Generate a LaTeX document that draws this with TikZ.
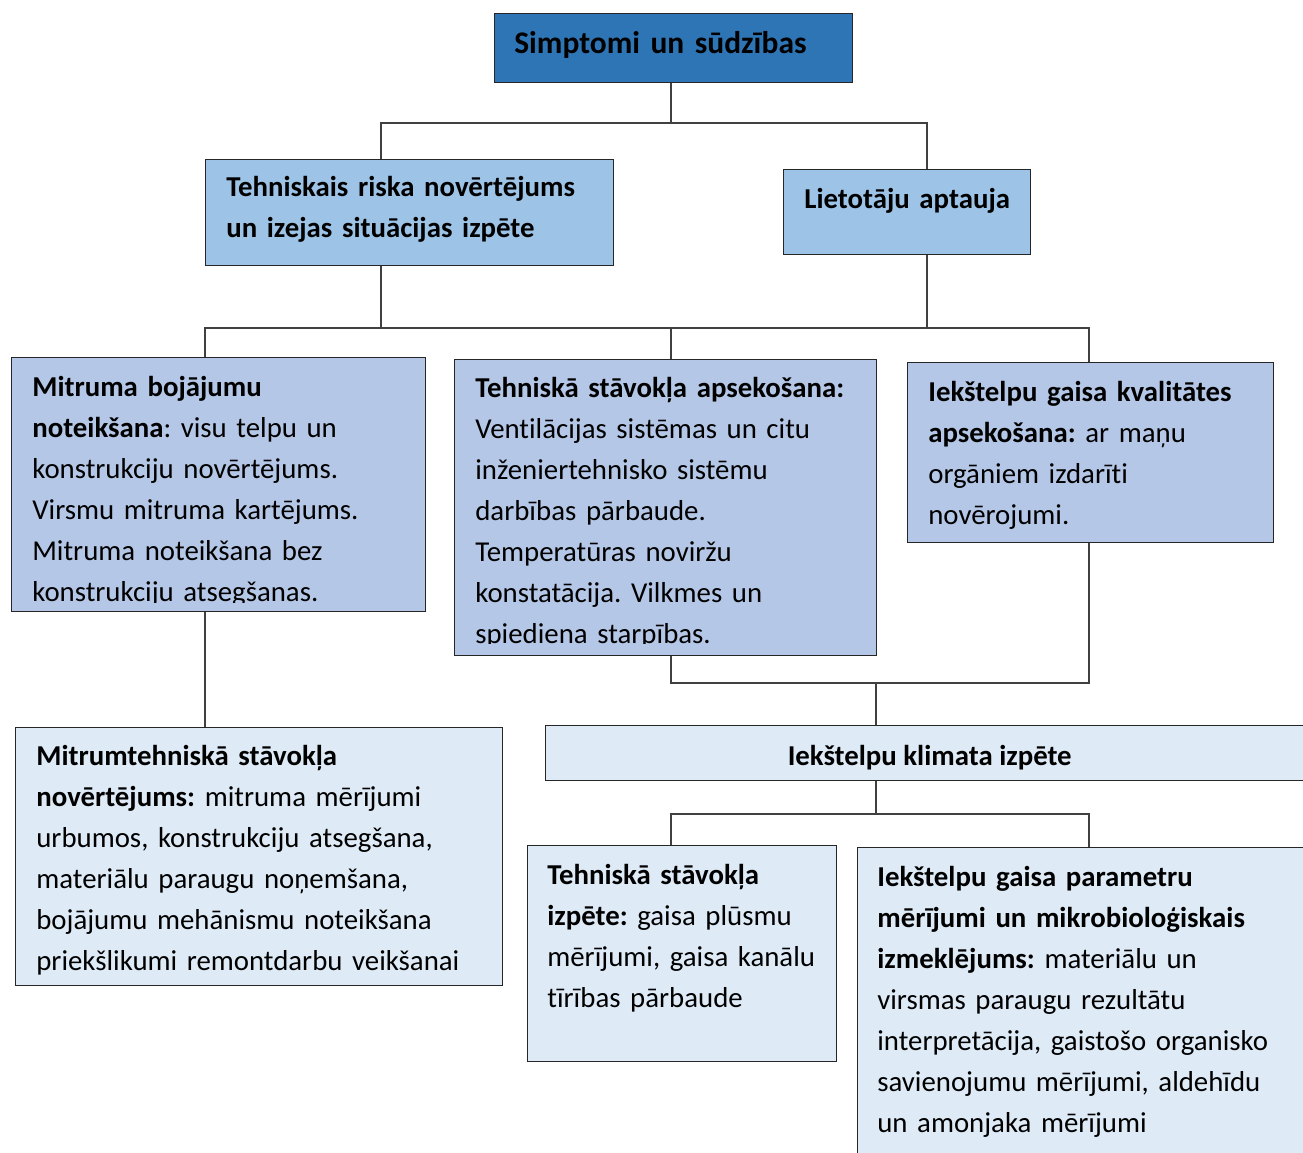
\documentclass[tikz,border=0pt]{standalone}
\usepackage{fontspec}
\setmainfont{Carlito}[Ligatures=NoCommon]
\usepackage{xcolor}
\usetikzlibrary{positioning,calc}
\frenchspacing

\definecolor{topblue}{HTML}{2E75B6}
\definecolor{midblue}{HTML}{9DC3E6}
\definecolor{paleblue}{HTML}{B4C7E7}
\definecolor{lightblue}{HTML}{DEEBF7}
\definecolor{linegray}{HTML}{404040}

\begin{document}
\begin{tikzpicture}[x=0.02cm, y=0.02cm,
    box/.style={draw=black!85, line width=0.8pt, anchor=north west, inner sep=0pt},
    boxsize/.style 2 args={minimum width=#1*0.02cm, minimum height=#2*0.02cm},
    txt/.style={anchor=base west, inner sep=0pt, align=left, text width=9.5cm,
                font=\fontsize{16.4pt}{23.4pt}\selectfont\frenchspacing},
    link/.style={draw=linegray, line width=0.8pt}]
    \path[use as bounding box, clip] (0,0) rectangle (1303,-1153);

    % boxes
    \node[box, boxsize={358}{69}, fill=topblue] (top) at (494,-13) {};
    \node[box, boxsize={408}{106}, fill=midblue] (risk) at (205,-159) {};
    \node[box, boxsize={247}{85}, fill=midblue] (users) at (783,-169) {};
    \node[box, boxsize={414}{254}, fill=paleblue] (damp) at (11,-357) {};
    \node[box, boxsize={422}{296}, fill=paleblue] (tech) at (454,-359) {};
    \node[box, boxsize={366}{180}, fill=paleblue] (air) at (907,-362) {};
    \node[box, boxsize={768}{55}, fill=lightblue] (climate) at (545,-725) {};
    \node[box, boxsize={487}{258}, fill=lightblue] (moist) at (15,-727) {};
    \node[box, boxsize={309}{216}, fill=lightblue] (techin) at (527,-845) {};
    \node[box, boxsize={460}{320}, fill=lightblue] (params) at (857,-847) {};

    % texts
    \node[txt, font=\fontsize{17.9pt}{23.4pt}\selectfont] (top-t) at ([shift={(20,-40)}]top.north west)
        {\textbf{Simptomi un sūdzības}};
    \node[txt] (risk-t) at ([shift={(21,-37)}]risk.north west)
        {\textbf{Tehniskais riska novērtējums\\un izejas situācijas izpēte}};
    \node[txt] (users-t) at ([shift={(21,-39)}]users.north west) {\textbf{Lietotāju aptauja}};
    \begin{scope}
        \clip ([shift={(0,10)}]damp.south west) rectangle (damp.north east);
        \node[txt] (damp-t) at ([shift={(21,-39)}]damp.north west)
            {\textbf{Mitruma bojājumu}\\ \textbf{noteikšana}: visu telpu un\\
             konstrukciju novērtējums.\\ Virsmu mitruma kartējums.\\
             Mitruma noteikšana bez\\ konstrukciju atsegšanas.};
    \end{scope}
    \begin{scope}
        \clip ([shift={(0,13)}]tech.south west) rectangle (tech.north east);
        \node[txt] (tech-t) at ([shift={(21,-38)}]tech.north west)
            {\textbf{Tehniskā stāvokļa apsekošana:}\\ Ventilācijas sistēmas un citu\\
             inženiertehnisko sistēmu\\ darbības pārbaude.\\ Temperatūras noviržu\\
             konstatācija. Vilkmes un\\ spiediena starpības.};
    \end{scope}
    \node[txt] (air-t) at ([shift={(21,-39)}]air.north west)
        {\textbf{Iekštelpu gaisa kvalitātes}\\ \textbf{apsekošana:} ar maņu\\
         orgāniem izdarīti\\ novērojumi.};
    \node[txt, anchor=base, align=center, text width=] (climate-t) at ([shift={(0,-40)}]climate.north)
        {\textbf{Iekštelpu klimata izpēte}};
    \node[txt] (moist-t) at ([shift={(21,-38)}]moist.north west)
        {\textbf{Mitrumtehniskā stāvokļa}\\ \textbf{novērtējums:} mitruma mērījumi\\
         urbumos, konstrukciju atsegšana,\\ materiālu paraugu noņemšana,\\
         bojājumu mehānismu noteikšana\\ priekšlikumi remontdarbu veikšanai};
    \node[txt] (techin-t) at ([shift={(20,-39)}]techin.north west)
        {\textbf{Tehniskā stāvokļa}\\ \textbf{izpēte:} gaisa plūsmu\\
         mērījumi, gaisa kanālu\\ tīrības pārbaude};
    \node[txt] (params-t) at ([shift={(20,-39)}]params.north west)
        {\textbf{Iekštelpu gaisa parametru}\\ \textbf{mērījumi un mikrobioloģiskais}\\
         \textbf{izmeklējums:} materiālu un\\ virsmas paraugu rezultātu\\
         interpretācija, gaistošo organisko\\ savienojumu mērījumi, aldehīdu\\
         un amonjaka mērījumi};

    % connectors
    \coordinate (j1) at (671,-123);
    \coordinate (b1w) at (381,-123);
    \coordinate (b1e) at (927,-123);
    \coordinate (b2w) at (205,-328);
    \coordinate (b2e) at (1089,-328);
    \coordinate (b3) at (876,-683);
    \coordinate (b4) at (876,-814);

    \draw[link] (top.south -| j1) -- (j1);
    \draw[link] (risk.north -| b1w) -- (b1w) -- (b1e) -- (users.north -| b1e);

    \draw[link] (risk.south -| b1w) -- (b2w -| b1w);
    \draw[link] (users.south -| b1e) -- (b2w -| b1e);
    \draw[link] (damp.north -| b2w) -- (b2w) -- (b2e) -- (air.north -| b2e);
    \draw[link] (tech.north -| j1) -- (b2w -| j1);

    \draw[link] (damp.south -| b2w) -- (moist.north -| b2w);
    \draw[link] (tech.south -| j1) -- (b3 -| j1) -- (b3 -| b2e) -- (air.south -| b2e);
    \draw[link] (b3) -- (climate.north -| b3);

    \draw[link] (climate.south -| b4) -- (b4);
    \draw[link] (techin.north -| j1) -- (b4 -| j1) -- (b4 -| b2e) -- (params.north -| b2e);
\end{tikzpicture}
\end{document}
